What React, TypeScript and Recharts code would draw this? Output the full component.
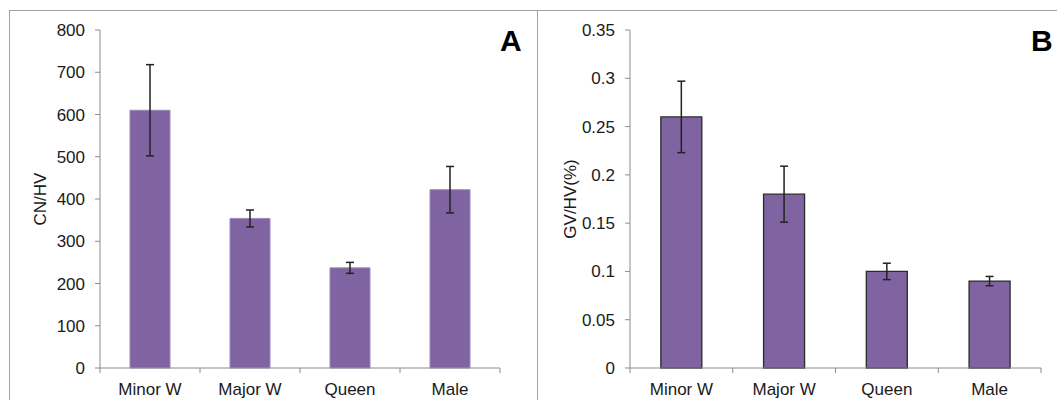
import { BarChart, Bar, XAxis, YAxis, ErrorBar } from 'recharts'

const categories = ['Minor W', 'Major W', 'Queen', 'Male']

// panel A: CN/HV
const cnHv = [610, 354, 237, 422]
const cnHvErr = [108, 20, 13, 55]
const cnTicks = [0, 100, 200, 300, 400, 500, 600, 700, 800]

// panel B: GV/HV(%)
const gvHv = [0.26, 0.18, 0.1, 0.09]
const gvHvErr = [0.037, 0.029, 0.0085, 0.0048]
const gvTicks = [0, 0.05, 0.1, 0.15, 0.2, 0.25, 0.3, 0.35]

const PURPLE = '#8064A2'
const AXIS = '#8c8c8c'
const TEXT = '#1a1a1a'
const FONT = "'Liberation Sans', Arial, sans-serif"
const FS = 17

const dataA = categories.map((name, i) => ({ name, v: cnHv[i], err: cnHvErr[i] }))
const dataB = categories.map((name, i) => ({ name, v: gvHv[i], err: gvHvErr[i] }))

// Excel-style category tick: marks sit on band boundaries, label at centre
const CatTick = (props: any) => {
  const { x, y, payload, index } = props
  const half = payload?.offset ?? 0
  return (
    <g>
      <line x1={x - half} y1={y} x2={x - half} y2={y + 5} stroke={AXIS} />
      {index === categories.length - 1 && (
        <line x1={x + half} y1={y} x2={x + half} y2={y + 5} stroke={AXIS} />
      )}
      <text x={x} y={y + 27} textAnchor="middle" fill={TEXT} fontSize={FS} fontFamily={FONT}>
        {payload.value}
      </text>
    </g>
  )
}

const axisTitle = (text: string, cx: number) => ({ viewBox }: any) => {
  const x = (viewBox?.x ?? 0) + cx
  const y = (viewBox?.y ?? 0) + (viewBox?.height ?? 0) / 2
  return (
    <text
      x={x}
      y={y}
      transform={`rotate(-90, ${x}, ${y})`}
      textAnchor="middle"
      dominantBaseline="central"
      fill={TEXT}
      fontSize={FS}
      fontFamily={FONT}
    >
      {text}
    </text>
  )
}

const yTick = { fill: TEXT, fontSize: FS, fontFamily: FONT }

export default function App() {
  return (
    <div style={{ position: 'absolute', left: 0, top: 0, width: 1057, height: 400, overflow: 'hidden', background: '#fff' }}>
      {/* panel frames */}
      <div style={{ position: 'absolute', left: 9, top: 10, width: 527, height: 400, border: '1px solid #a3a3a3' }} />
      <div style={{ position: 'absolute', left: 537, top: 10, width: 530, height: 400, border: '1px solid #a3a3a3' }} />

      <div style={{ position: 'absolute', left: 0, top: 0 }}>
        <BarChart width={537} height={400} data={dataA} margin={{ top: 30, right: 37, bottom: 2, left: 0 }} barCategoryGap="30%">
          <XAxis
            dataKey="name"
            tickLine={false}
            tickSize={0}
            tickMargin={0}
            height={30}
            stroke={AXIS}
            tick={<CatTick />}
            interval={0}
          />
          <YAxis
            domain={[0, 800]}
            ticks={cnTicks}
            width={100}
            stroke={AXIS}
            tickSize={5}
            tickMargin={10}
            tick={yTick}
            interval={0}
            label={axisTitle('CN/HV', 40)}
          />
          <Bar dataKey="v" fill={PURPLE} stroke="#9c88bb" strokeWidth={1} isAnimationActive={false}>
            <ErrorBar dataKey="err" width={4} stroke="#222" strokeWidth={1.5} isAnimationActive={false} />
          </Bar>
        </BarChart>
      </div>

      <div style={{ position: 'absolute', left: 537, top: 0 }}>
        <BarChart width={520} height={400} data={dataB} margin={{ top: 30, right: 16, bottom: 2, left: 0 }} barCategoryGap="30%">
          <XAxis
            dataKey="name"
            tickLine={false}
            tickSize={0}
            tickMargin={0}
            height={30}
            stroke={AXIS}
            tick={<CatTick />}
            interval={0}
          />
          <YAxis
            domain={[0, 0.35]}
            ticks={gvTicks}
            width={93}
            stroke={AXIS}
            tickSize={5}
            tickMargin={10}
            tick={yTick}
            interval={0}
            label={axisTitle('GV/HV(%)', 33)}
          />
          <Bar dataKey="v" fill={PURPLE} stroke="#2a2a2a" strokeWidth={1.3} isAnimationActive={false}>
            <ErrorBar dataKey="err" width={4} stroke="#222" strokeWidth={1.5} isAnimationActive={false} />
          </Bar>
        </BarChart>
      </div>

      <div style={{ position: 'absolute', left: 500, top: 24, fontFamily: FONT, fontWeight: 'bold', fontSize: 30, color: '#000' }}>A</div>
      <div style={{ position: 'absolute', left: 1031, top: 24, fontFamily: FONT, fontWeight: 'bold', fontSize: 30, color: '#000' }}>B</div>
    </div>
  )
}
